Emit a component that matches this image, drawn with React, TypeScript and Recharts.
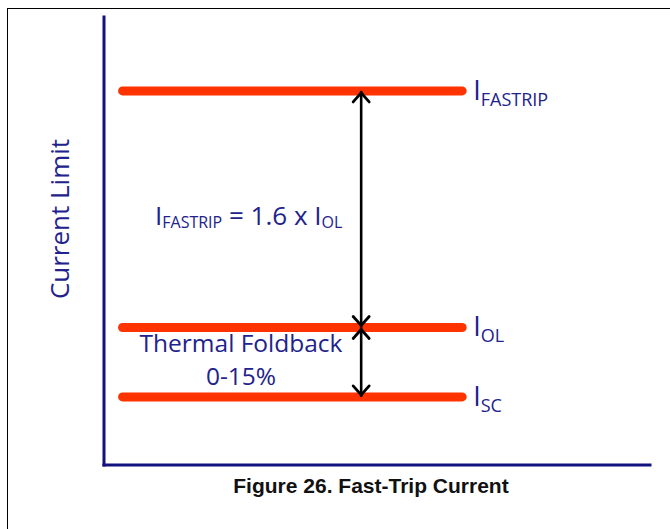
import React from 'react';
import { LineChart, Line, XAxis, YAxis, LabelList, Customized } from 'recharts';

// Current levels (arbitrary units on the "Current Limit" axis)
const levelNames = ['FASTRIP', 'OL', 'SC'];
const levelValues = [83.5, 30.7, 15.2];
// extent of each level line along the horizontal axis
const lineSpan = [3.4, 65.6];
// position of the double-headed arrows along the horizontal axis
const arrowX = 47.1;
// arrows join pairs of levels (indices into levelValues)
const arrowPairs = [
  [0, 1],
  [1, 2],
];

const yAxisTitle = 'Current Limit';
const formulaParts = ['I', 'FASTRIP', ' = 1.6 x I', 'OL'];
const foldbackLines = ['Thermal Foldback', '0-15%'];
const caption = 'Figure 26. Fast-Trip Current';

const NAVY = '#22228c';
const AXIS = '#12127f';
const ORANGE = '#ff3300';
const FONT = '"Open Sans", sans-serif';

const levelData = levelValues.map((v) => lineSpan.map((x) => ({ x, y: v })));
const arrowData = arrowPairs.map(([a, b]) => [
  { x: arrowX, y: levelValues[a] },
  { x: arrowX, y: levelValues[b] },
]);

const ArrowHead = (props: any) => {
  const { cx, cy, index } = props;
  if (cx == null || cy == null) return <g key={`ahn-${index}`} />;
  const up = index === 0;
  const s = up ? 1 : -1;
  const t = cy + s * 2;
  const d = `M${cx - 8},${t + s * 9} L${cx},${t} L${cx + 8},${t + s * 9}`;
  return (
    <path
      key={`ah-${index}-${cx}-${cy}`}
      d={d}
      fill="none"
      stroke="#000"
      strokeWidth={2.8}
      strokeLinecap="round"
      strokeLinejoin="miter"
    />
  );
};

const makeLevelLabel = (name: string) => (props: any) => {
  const { x, y, index } = props;
  if (index !== 1) return null;
  return (
    <text
      x={Number(x) + 11}
      y={Number(y) + 9}
      fill={NAVY}
      fontFamily={FONT}
      style={{ whiteSpace: 'pre' }}
    >
      <tspan fontSize={27}>I</tspan>
      <tspan fontSize={18} dy={6}>
        {name}
      </tspan>
    </text>
  );
};

const Annotations = () => (
  <g>
    <text
      x={69}
      y={219}
      transform="rotate(-90, 69, 219)"
      textAnchor="middle"
      fontSize={26}
      fill={NAVY}
      fontFamily={FONT}
    >
      {yAxisTitle}
    </text>
    <text x={155} y={225} fill={NAVY} fontFamily={FONT} style={{ whiteSpace: 'pre' }}>
      <tspan fontSize={26}>{formulaParts[0]}</tspan>
      <tspan fontSize={16} dy={3}>
        {formulaParts[1]}
      </tspan>
      <tspan fontSize={26} dy={-3}>
        {formulaParts[2]}
      </tspan>
      <tspan fontSize={16} dy={3}>
        {formulaParts[3]}
      </tspan>
    </text>
    <text x={241} y={352} textAnchor="middle" fontSize={24.5} fill={NAVY} fontFamily={FONT}>
      {foldbackLines[0]}
    </text>
    <text x={241} y={385} textAnchor="middle" fontSize={24.5} fill={NAVY} fontFamily={FONT}>
      {foldbackLines[1]}
    </text>
    <text
      x={371}
      y={493}
      textAnchor="middle"
      fontSize={21}
      fontWeight="bold"
      fill="#111"
      fontFamily='"Liberation Sans", Arial, sans-serif'
    >
      {caption}
    </text>
  </g>
);

export default function App() {
  return (
    <div style={{ position: 'absolute', left: 0, top: 0, width: 670, height: 529, background: '#fff' }}>
      <div
        style={{
          position: 'absolute',
          left: 7,
          top: 8,
          width: 700,
          height: 600,
          borderLeft: '1.5px solid #000',
          borderTop: '1.5px solid #000',
        }}
      />
      <div style={{ position: 'absolute', left: 0, top: 0 }}>
        <LineChart width={670} height={529} margin={{ top: 17, right: 20, bottom: 63, left: 103 }}>
          <XAxis
            type="number"
            dataKey="x"
            domain={[0, 100]}
            allowDataOverflow
            tick={false}
            tickLine={false}
            height={1}
            axisLine={{ stroke: AXIS, strokeWidth: 3, strokeLinecap: 'square' }}
          />
          <YAxis
            type="number"
            dataKey="y"
            domain={[0, 100]}
            allowDataOverflow
            tick={false}
            tickLine={false}
            width={1}
            axisLine={{ stroke: AXIS, strokeWidth: 3, strokeLinecap: 'square' }}
          />
          {levelData.map((d, i) => (
            <Line
              key={`lvl-${i}`}
              data={d}
              dataKey="y"
              type="linear"
              stroke={ORANGE}
              strokeWidth={9}
              strokeLinecap="round"
              dot={false}
              activeDot={false}
              isAnimationActive={false}
            >
              <LabelList dataKey="y" content={makeLevelLabel(levelNames[i])} />
            </Line>
          ))}
          {arrowData.map((d, i) => (
            <Line
              key={`arr-${i}`}
              data={d}
              dataKey="y"
              type="linear"
              stroke="#000"
              strokeWidth={2.6}
              dot={ArrowHead}
              activeDot={false}
              isAnimationActive={false}
            />
          ))}
          <Customized component={Annotations} />
        </LineChart>
      </div>
    </div>
  );
}
